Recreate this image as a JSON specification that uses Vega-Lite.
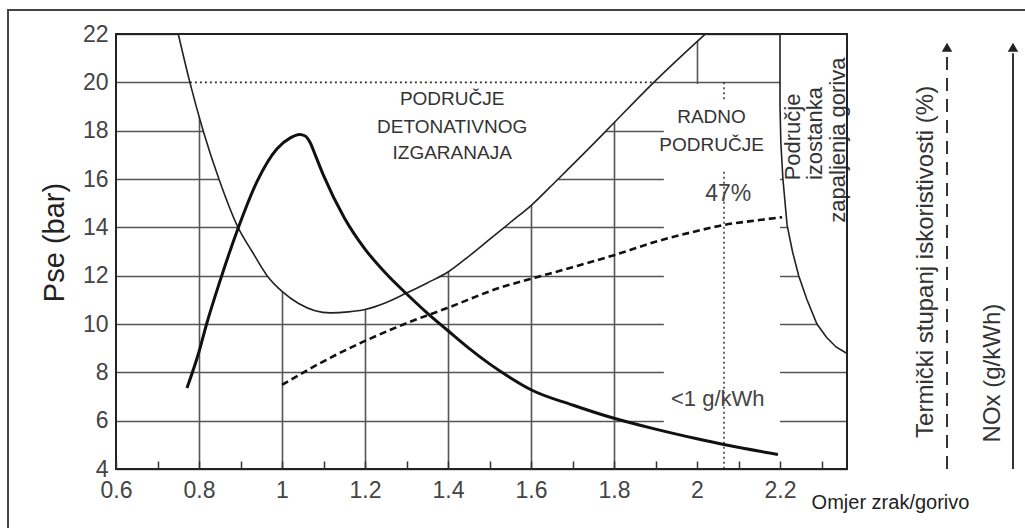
{
  "$schema": "https://vega.github.io/schema/vega-lite/v6.json",
  "width": 731,
  "height": 435,
  "autosize": {"type": "none"},
  "padding": {"left": 116, "top": 34, "right": 178, "bottom": 59},
  "background": "white",
  "config": {"view": {"stroke": null}, "font": "Liberation Sans", "text": {"font": "Liberation Sans"}},
  "resolve": {"axis": {"x": "independent", "y": "independent"}},
  "datasets": {
    "one": [{}],
    "ucurve": [
      {"x": 0.750, "y": 22.0}, {"x": 0.778, "y": 20.0}, {"x": 0.810, "y": 18.0}, {"x": 0.848, "y": 16.0},
      {"x": 0.894, "y": 14.0}, {"x": 0.928, "y": 13.0}, {"x": 0.964, "y": 12.0}, {"x": 1.000, "y": 11.35},
      {"x": 1.040, "y": 10.85}, {"x": 1.080, "y": 10.55}, {"x": 1.116, "y": 10.46}, {"x": 1.160, "y": 10.50},
      {"x": 1.200, "y": 10.60}, {"x": 1.250, "y": 10.88}, {"x": 1.300, "y": 11.28}, {"x": 1.350, "y": 11.70},
      {"x": 1.400, "y": 12.15}, {"x": 1.450, "y": 12.80}, {"x": 1.500, "y": 13.50}, {"x": 1.550, "y": 14.20},
      {"x": 1.600, "y": 14.90}, {"x": 1.663, "y": 15.96}, {"x": 1.730, "y": 17.10}, {"x": 1.790, "y": 18.15},
      {"x": 1.894, "y": 19.97}, {"x": 2.020, "y": 22.0}
    ],
    "nox": [
      {"x": 0.771, "y": 7.35}, {"x": 0.800, "y": 8.85}, {"x": 0.819, "y": 10.04}, {"x": 0.850, "y": 11.75},
      {"x": 0.894, "y": 13.95}, {"x": 0.940, "y": 15.90}, {"x": 0.988, "y": 17.25}, {"x": 1.020, "y": 17.70},
      {"x": 1.042, "y": 17.84}, {"x": 1.056, "y": 17.78}, {"x": 1.068, "y": 17.50}, {"x": 1.080, "y": 17.00},
      {"x": 1.100, "y": 16.15}, {"x": 1.150, "y": 14.40}, {"x": 1.200, "y": 13.10}, {"x": 1.250, "y": 12.10},
      {"x": 1.300, "y": 11.25}, {"x": 1.350, "y": 10.45}, {"x": 1.400, "y": 9.72}, {"x": 1.450, "y": 9.00},
      {"x": 1.500, "y": 8.35}, {"x": 1.550, "y": 7.78}, {"x": 1.600, "y": 7.28}, {"x": 1.700, "y": 6.65},
      {"x": 1.798, "y": 6.11}, {"x": 1.900, "y": 5.65}, {"x": 2.000, "y": 5.25}, {"x": 2.068, "y": 5.00},
      {"x": 2.195, "y": 4.60}
    ],
    "eff": [
      {"x": 1.000, "y": 7.48}, {"x": 1.116, "y": 8.60}, {"x": 1.200, "y": 9.30}, {"x": 1.301, "y": 10.04},
      {"x": 1.398, "y": 10.66}, {"x": 1.525, "y": 11.50}, {"x": 1.598, "y": 11.86}, {"x": 1.700, "y": 12.35},
      {"x": 1.802, "y": 12.86}, {"x": 1.900, "y": 13.40}, {"x": 2.000, "y": 13.85}, {"x": 2.065, "y": 14.10},
      {"x": 2.150, "y": 14.30}, {"x": 2.205, "y": 14.42}
    ],
    "rcurve": [
      {"x": 2.200, "y": 22.0}, {"x": 2.200, "y": 19.0}, {"x": 2.202, "y": 17.5}, {"x": 2.207, "y": 16.0},
      {"x": 2.217, "y": 14.1}, {"x": 2.230, "y": 13.0}, {"x": 2.245, "y": 12.0}, {"x": 2.265, "y": 11.0},
      {"x": 2.289, "y": 10.0}, {"x": 2.312, "y": 9.45}, {"x": 2.335, "y": 9.05}, {"x": 2.3614, "y": 8.78}
    ]
  },
  "layer": [
    {
      "data": {"name": "ucurve"},
      "mark": {"type": "area", "color": "white", "opacity": 1},
      "encoding": {
        "x": {"field": "x", "type": "quantitative", "scale": {"domain": [0.6, 2.3614], "nice": false, "zero": false},
          "axis": {"orient": "bottom", "values": [0.8, 1.0, 1.2, 1.4, 1.6, 1.8, 2.0], "grid": true, "gridColor": "#555", "gridWidth": 1.6, "labels": false, "ticks": false, "domain": false, "title": null, "zindex": 0}},
        "y": {"field": "y", "type": "quantitative", "scale": {"domain": [4, 22], "nice": false, "zero": false},
          "axis": {"orient": "left", "values": [4, 6, 8, 10, 12, 14, 16, 18, 20, 22], "grid": true, "gridColor": "#555", "gridWidth": 1.6, "ticks": false, "domain": false,
            "labelFontSize": 23, "labelColor": "#444", "labelPadding": 8,
            "title": "Pse (bar)", "titleFontSize": 29, "titleFontWeight": "normal", "titleColor": "#222",
            "titleX": -62, "titleY": 208, "titleAngle": 270, "titleAlign": "center", "titleBaseline": "middle", "zindex": 0}},
        "y2": {"datum": 22}
      }
    },
    {
      "data": {"name": "one"},
      "mark": {"type": "rect", "color": "white", "opacity": 1},
      "encoding": {
        "x": {"datum": 1.92, "type": "quantitative", "scale": {"domain": [0.6, 2.3614], "nice": false, "zero": false}, "axis": null},
        "x2": {"datum": 2.2},
        "y": {"datum": 4, "type": "quantitative", "scale": {"domain": [4, 22], "nice": false, "zero": false}, "axis": null},
        "y2": {"datum": 19.93}
      }
    },
    {
      "data": {"name": "rcurve"},
      "mark": {"type": "area", "orient": "horizontal", "color": "white", "opacity": 1},
      "encoding": {
        "y": {"field": "y", "type": "quantitative", "scale": {"domain": [4, 22], "nice": false, "zero": false}, "axis": null},
        "x": {"field": "x", "type": "quantitative", "scale": {"domain": [0.6, 2.3614], "nice": false, "zero": false}, "axis": null},
        "x2": {"datum": 2.3614}
      }
    },
    {
      "data": {"name": "one"},
      "mark": {"type": "rule", "color": "#333", "strokeWidth": 1.6, "strokeDash": [2, 3]},
      "encoding": {
        "x": {"datum": 0.778, "type": "quantitative", "scale": {"domain": [0.6, 2.3614], "nice": false, "zero": false}, "axis": null},
        "x2": {"datum": 1.894},
        "y": {"datum": 20, "type": "quantitative", "scale": {"domain": [4, 22], "nice": false, "zero": false}, "axis": null}
      }
    },
    {
      "data": {"values": [{"x": 2.065, "ya": 20, "yb": 19.2}, {"x": 2.065, "ya": 16.3, "yb": 4}]},
      "mark": {"type": "rule", "color": "#333", "strokeWidth": 1.5, "strokeDash": [2, 3]},
      "encoding": {
        "x": {"field": "x", "type": "quantitative", "scale": {"domain": [0.6, 2.3614], "nice": false, "zero": false}, "axis": null},
        "y": {"field": "ya", "type": "quantitative", "scale": {"domain": [4, 22], "nice": false, "zero": false}, "axis": null},
        "y2": {"field": "yb"}
      }
    },
    {
      "data": {"name": "ucurve"},
      "mark": {"type": "line", "color": "#222", "strokeWidth": 1.6, "interpolate": "monotone"},
      "encoding": {
        "x": {"field": "x", "type": "quantitative", "scale": {"domain": [0.6, 2.3614], "nice": false, "zero": false}, "axis": null},
        "y": {"field": "y", "type": "quantitative", "scale": {"domain": [4, 22], "nice": false, "zero": false}, "axis": null}
      }
    },
    {
      "data": {"name": "rcurve"},
      "mark": {"type": "line", "color": "#222", "strokeWidth": 1.6},
      "encoding": {
        "x": {"field": "x", "type": "quantitative", "scale": {"domain": [0.6, 2.3614], "nice": false, "zero": false}, "axis": null},
        "y": {"field": "y", "type": "quantitative", "scale": {"domain": [4, 22], "nice": false, "zero": false}, "axis": null},
        "order": {"field": "y", "type": "quantitative", "sort": "descending"}
      }
    },
    {
      "data": {"name": "eff"},
      "mark": {"type": "line", "color": "#111", "strokeWidth": 2.6, "strokeDash": [7, 4], "interpolate": "monotone"},
      "encoding": {
        "x": {"field": "x", "type": "quantitative", "scale": {"domain": [0.6, 2.3614], "nice": false, "zero": false}, "axis": null},
        "y": {"field": "y", "type": "quantitative", "scale": {"domain": [4, 22], "nice": false, "zero": false}, "axis": null}
      }
    },
    {
      "data": {"values": [
        {"label": "PODRUČJE", "x": 1.41, "y": 19.3},
        {"label": "DETONATIVNOG", "x": 1.41, "y": 18.15},
        {"label": "IZGARANAJA", "x": 1.41, "y": 17.07},
        {"label": "RADNO", "x": 2.035, "y": 18.58},
        {"label": "PODRUČJE", "x": 2.035, "y": 17.41}
      ]},
      "mark": {"type": "text", "fontSize": 19, "color": "#333", "align": "center", "baseline": "middle"},
      "encoding": {
        "x": {"field": "x", "type": "quantitative", "scale": {"domain": [0.6, 2.3614], "nice": false, "zero": false}, "axis": null},
        "y": {"field": "y", "type": "quantitative", "scale": {"domain": [4, 22], "nice": false, "zero": false}, "axis": null},
        "text": {"field": "label"}
      }
    },
    {
      "data": {"values": [{"label": "47%", "x": 2.075, "y": 15.4}]},
      "mark": {"type": "text", "fontSize": 23, "color": "#444", "align": "center", "baseline": "middle"},
      "encoding": {
        "x": {"field": "x", "type": "quantitative", "scale": {"domain": [0.6, 2.3614], "nice": false, "zero": false}, "axis": null},
        "y": {"field": "y", "type": "quantitative", "scale": {"domain": [4, 22], "nice": false, "zero": false}, "axis": null},
        "text": {"field": "label"}
      }
    },
    {
      "data": {"values": [{"label": "<1 g/kWh", "x": 2.05, "y": 6.9}]},
      "mark": {"type": "text", "fontSize": 22, "color": "#444", "align": "center", "baseline": "middle"},
      "encoding": {
        "x": {"field": "x", "type": "quantitative", "scale": {"domain": [0.6, 2.3614], "nice": false, "zero": false}, "axis": null},
        "y": {"field": "y", "type": "quantitative", "scale": {"domain": [4, 22], "nice": false, "zero": false}, "axis": null},
        "text": {"field": "label"}
      }
    },
    {
      "data": {"values": [
        {"label": "Područje", "x": 2.2313, "y": 17.74},
        {"label": "izostanka", "x": 2.2843, "y": 17.88},
        {"label": "zapaljenja goriva", "x": 2.3398, "y": 17.61}
      ]},
      "mark": {"type": "text", "fontSize": 22, "color": "#333", "align": "center", "baseline": "middle", "angle": 270},
      "encoding": {
        "x": {"field": "x", "type": "quantitative", "scale": {"domain": [0.6, 2.3614], "nice": false, "zero": false}, "axis": null},
        "y": {"field": "y", "type": "quantitative", "scale": {"domain": [4, 22], "nice": false, "zero": false}, "axis": null},
        "text": {"field": "label"}
      }
    },
    {
      "data": {"values": [
        {"label": "Termički stupanj iskoristivosti (%)", "x": 2.5518, "y": 12.57},
        {"label": "NOx (g/kWh)", "x": 2.7133, "y": 7.97}
      ]},
      "mark": {"type": "text", "fontSize": 24, "color": "#333", "align": "center", "baseline": "middle", "angle": 270},
      "encoding": {
        "x": {"field": "x", "type": "quantitative", "scale": {"domain": [0.6, 2.3614], "nice": false, "zero": false}, "axis": null},
        "y": {"field": "y", "type": "quantitative", "scale": {"domain": [4, 22], "nice": false, "zero": false}, "axis": null},
        "text": {"field": "label"}
      }
    },
    {
      "data": {"name": "one"},
      "mark": {"type": "rule", "color": "#333", "strokeWidth": 2, "strokeDash": [13, 8]},
      "encoding": {
        "x": {"datum": 2.6024, "type": "quantitative", "scale": {"domain": [0.6, 2.3614], "nice": false, "zero": false}, "axis": null},
        "y": {"datum": 4, "type": "quantitative", "scale": {"domain": [4, 22], "nice": false, "zero": false}, "axis": null},
        "y2": {"datum": 21.2}
      }
    },
    {
      "data": {"name": "one"},
      "mark": {"type": "rule", "color": "#333", "strokeWidth": 2},
      "encoding": {
        "x": {"datum": 2.7614, "type": "quantitative", "scale": {"domain": [0.6, 2.3614], "nice": false, "zero": false}, "axis": null},
        "y": {"datum": 4, "type": "quantitative", "scale": {"domain": [4, 22], "nice": false, "zero": false}, "axis": null},
        "y2": {"datum": 21.2}
      }
    },
    {
      "data": {"values": [{"x": 2.6024, "y": 21.45}, {"x": 2.7614, "y": 21.45}]},
      "mark": {"type": "point", "shape": "triangle-up", "filled": true, "color": "#222", "size": 110, "opacity": 1},
      "encoding": {
        "x": {"field": "x", "type": "quantitative", "scale": {"domain": [0.6, 2.3614], "nice": false, "zero": false}, "axis": null},
        "y": {"field": "y", "type": "quantitative", "scale": {"domain": [4, 22], "nice": false, "zero": false}, "axis": null}
      }
    },
    {
      "data": {"name": "one"},
      "mark": {"type": "rect", "fillOpacity": 0, "stroke": "#444", "strokeWidth": 2},
      "encoding": {
        "x": {"datum": 0.3398, "type": "quantitative", "scale": {"domain": [0.6, 2.3614], "nice": false, "zero": false}, "axis": null},
        "x2": {"datum": 2.9},
        "y": {"datum": 1.0, "type": "quantitative", "scale": {"domain": [4, 22], "nice": false, "zero": false}, "axis": null},
        "y2": {"datum": 22.993}
      }
    },
    {
      "data": {"name": "one"},
      "mark": {"type": "rect", "fillOpacity": 0, "stroke": "#222", "strokeWidth": 2},
      "encoding": {
        "x": {"datum": 0.6, "type": "quantitative", "scale": {"domain": [0.6, 2.3614], "nice": false, "zero": false}, "axis": null},
        "x2": {"datum": 2.3614},
        "y": {"datum": 4, "type": "quantitative", "scale": {"domain": [4, 22], "nice": false, "zero": false}, "axis": null},
        "y2": {"datum": 22}
      }
    },
    {
      "data": {"name": "nox"},
      "mark": {"type": "line", "color": "#111", "strokeWidth": 3, "interpolate": "monotone"},
      "encoding": {
        "x": {"field": "x", "type": "quantitative", "scale": {"domain": [0.6, 2.3614], "nice": false, "zero": false},
          "axis": {"orient": "bottom", "values": [0.6, 0.7, 0.8, 0.9, 1.0, 1.1, 1.2, 1.3, 1.4, 1.5, 1.6, 1.7, 1.8, 1.9, 2.0, 2.1, 2.2, 2.3],
            "format": "~g", "labelExpr": "(round(datum.value*10) % 2 == 0 && datum.value < 2.25) ? datum.label : ''",
            "grid": false, "domain": false, "ticks": true, "tickSize": -8, "tickColor": "#333", "tickWidth": 1.5,
            "labelFontSize": 23, "labelColor": "#444", "labelPadding": 18, "labelFlush": false, "labelOverlap": false,
            "title": "Omjer zrak/gorivo", "titleFontSize": 20, "titleFontWeight": "normal", "titleColor": "#222",
            "titleX": 774, "titleY": 33, "titleAlign": "center", "titleBaseline": "middle", "zindex": 1}},
        "y": {"field": "y", "type": "quantitative", "scale": {"domain": [4, 22], "nice": false, "zero": false}, "axis": null}
      }
    }
  ]
}
